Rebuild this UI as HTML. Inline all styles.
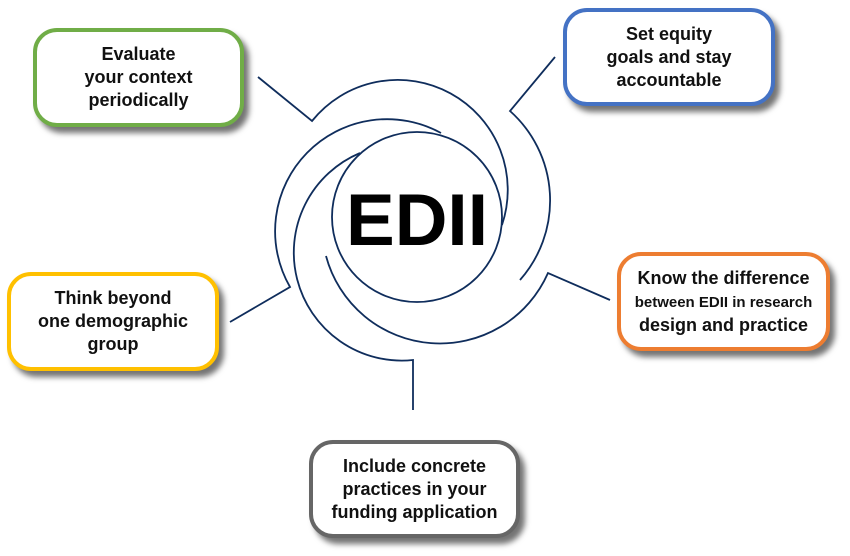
<!DOCTYPE html>
<html><head><meta charset="utf-8"><style>
body{margin:0;width:850px;height:556px;background:#fff;position:relative;overflow:hidden;font-family:"Liberation Sans",sans-serif}
.b{position:absolute;box-sizing:border-box;border:4px solid;border-radius:24px;background:#fff;box-shadow:5px 6px 6px rgba(0,0,0,.55);display:flex;align-items:center;justify-content:center;text-align:center;font-weight:bold;font-size:18px;line-height:23px;color:#111}
svg{position:absolute;left:0;top:0}
</style></head><body>
<svg width="850" height="556" fill="none" stroke="#0f2d5c" stroke-width="1.8">
<circle cx="417" cy="217" r="85"/>
<path d="M258 77 L312 121 A110 110 0 0 1 502 225"/>
<path d="M555 57 L510 111 A120 120 0 0 1 520 280"/>
<path d="M610 300 L548 273 A118 118 0 0 1 326 256"/>
<path d="M230 322 L290 287 A112 112 0 0 1 441 133"/>
<path d="M413 410 L413 360 A108 108 0 0 1 360 153"/>
<text x="417" y="245" text-anchor="middle" font-family="Liberation Sans" font-weight="bold" font-size="73" fill="#000" stroke="none">EDII</text>
</svg>
<div class="b" style="left:33px;top:28px;width:211px;height:99px;border-color:#70ad47">Evaluate<br>your context<br>periodically</div>
<div class="b" style="left:563px;top:8px;width:212px;height:98px;border-color:#4472c4">Set equity<br>goals and stay<br>accountable</div>
<div class="b" style="left:7px;top:272px;width:212px;height:99px;border-color:#ffc000">Think beyond<br>one demographic<br>group</div>
<div class="b" style="left:617px;top:252px;width:213px;height:99px;border-color:#ed7d31"><span>Know the difference<br><span style="font-size:15px">between EDII in research</span><br>design and practice</span></div>
<div class="b" style="left:309px;top:440px;width:211px;height:98px;border-color:#666">Include concrete<br>practices in your<br>funding application</div>
</body></html>
